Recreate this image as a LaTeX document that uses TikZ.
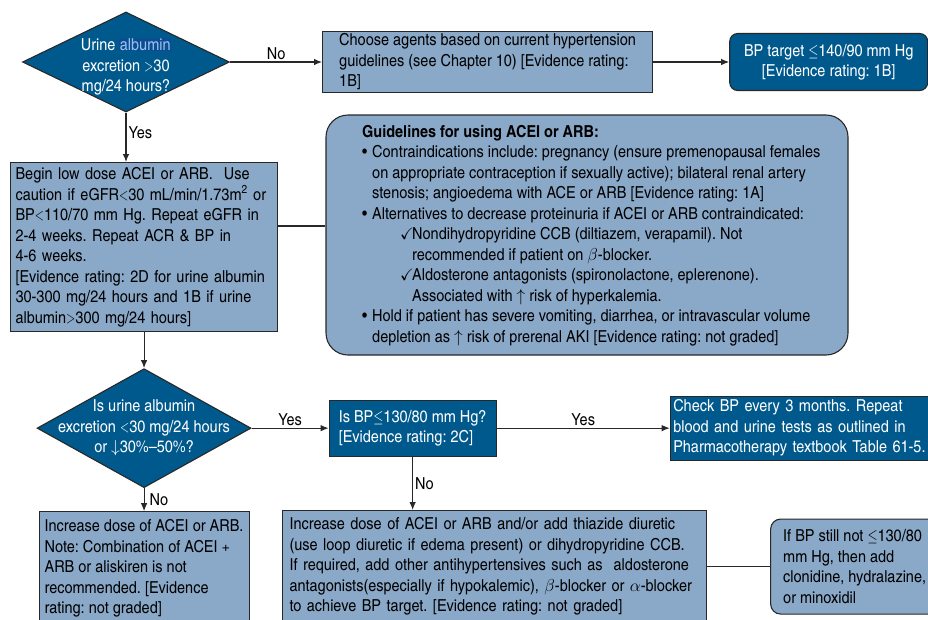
\documentclass[tikz,border=0pt]{standalone}
\usepackage{amssymb}
\usepackage{fontspec}
\setmainfont{texgyreheroscn}[Extension=.otf, UprightFont=*-regular, BoldFont=*-bold, ItalicFont=*-italic, BoldItalicFont=*-bolditalic, FakeStretch=1.07]
\usetikzlibrary{shapes.geometric, arrows.meta, positioning, fit, backgrounds}
\definecolor{flowdark}{RGB}{0,89,140}
\definecolor{flowlight}{RGB}{138,168,199}
\definecolor{flowline}{RGB}{40,40,40}
\definecolor{selback}{RGB}{14,76,146}
\definecolor{seltext}{RGB}{150,195,238}
\newcommand{\lessthan}{\scalebox{0.7}[1]{$<$}}
\newcommand{\morethan}{\scalebox{0.7}[1]{$>$}}
\newcommand{\atmost}{\scalebox{0.75}[1]{$\leq$}}
\frenchspacing

\begin{document}
\begin{tikzpicture}[
        x=1pt, y=-1pt,
        every node/.style = {font=\fontsize{16.5}{20.5}\selectfont},
        box/.style = {draw=flowline, rectangle, line width=1.1pt, align=left, inner xsep=2pt, inner ysep=2pt},
        lightbox/.style = {box, fill=flowlight},
        darkbox/.style = {box, fill=flowdark, text=white},
        roundbox/.style = {lightbox, rounded corners=10pt},
        decision/.style = {draw=flowline, diamond, line width=1.1pt, fill=flowdark, text=white, align=center, inner xsep=-25pt, inner ysep=-20pt},
        arrow/.style = {draw=flowline, -{Latex[length=8pt, width=6.5pt]}, line width=1.1pt},
        link/.style = {draw=flowline, line width=1.1pt},
        answer/.style = {font=\fontsize{16.5}{18}\selectfont, inner sep=2pt}
    ]
        \useasboundingbox (0,0) rectangle (928,619);

        % First question
        \node (albq) [decision, aspect=2.07, minimum width=207pt, minimum height=100pt] at (126,62) {\rule{0pt}{22pt}Urine \smash{\setlength{\fboxsep}{0.5pt}\colorbox{selback}{\textcolor{seltext}{albumin}}}\\excretion \morethan30\\mg/24 hours?};
        \node (agents) [lightbox, right=92pt of albq, minimum width=330pt, minimum height=61pt] {Choose agents based on current hypertension\\guidelines (see Chapter 10) [Evidence rating:\\1B]};
        \node (target) [darkbox, rounded corners=8pt, right=76pt of agents, minimum width=198pt, minimum height=57pt, align=center] {BP target \atmost140/90 mm Hg\\{[}Evidence rating: 1B]};

        % Start therapy
        \node (startrx) [lightbox, anchor=north west, inner xsep=5pt, text width=257pt, minimum height=169pt] at (10,162) {Begin low dose ACEI or ARB.\ \ Use\\caution if eGFR\lessthan30 mL/min/1.73m\textsuperscript{2} or\\BP\lessthan110/70 mm Hg. Repeat eGFR in\\2-4 weeks. Repeat ACR \& BP in\\4-6 weeks.\\{[}Evidence rating: 2D for urine albumin\\30-300 mg/24 hours and 1B if urine\\albumin\morethan300 mg/24 hours]};

        % Guidelines panel
        \node (guidetext) [anchor=north west, align=left, inner sep=0pt] at (362,125) {\textbf{Guidelines for using ACEI or ARB:}\\
            \makebox[10pt][l]{\textbullet}Contraindications include: pregnancy (ensure premenopausal females\\
            \hspace*{10pt}on appropriate contraception if sexually active); bilateral renal artery\\
            \hspace*{10pt}stenosis; angioedema with ACE or ARB [Evidence rating: 1A]\\
            \makebox[10pt][l]{\textbullet}Alternatives to decrease proteinuria if ACEI or ARB contraindicated:\\
            \hspace*{38pt}\makebox[12pt][l]{$\checkmark$}Nondihydropyridine CCB (diltiazem, verapamil). Not\\
            \hspace*{50pt}recommended if patient on $\beta$-blocker.\\
            \hspace*{38pt}\makebox[12pt][l]{$\checkmark$}Aldosterone antagonists (spironolactone, eplerenone).\\
            \hspace*{50pt}Associated with $\uparrow$ risk of hyperkalemia.\\
            \makebox[10pt][l]{\textbullet}Hold if patient has severe vomiting, diarrhea, or intravascular volume\\
            \hspace*{10pt}depletion as $\uparrow$ risk of prerenal AKI [Evidence rating: not graded]};
        \begin{scope}[on background layer]
            \node (guide) [roundbox, rounded corners=22pt, inner sep=0pt, fit={(326,115) (848,355)}] {};
        \end{scope}
        \coordinate (linky) at (300,226);

        % Second question
        \node (albchange) [decision, aspect=1.8, minimum width=214pt, minimum height=119pt, below=36pt of startrx] {Is urine albumin\\excretion \lessthan30 mg/24 hours\\or $\downarrow$30\%--50\%?};
        \node (bpgoal) [darkbox, right=77pt of albchange, minimum width=167pt, minimum height=56pt] {Is BP\atmost130/80 mm Hg?\\{[}Evidence rating: 2C]};
        \node (monitor) [darkbox, right=173pt of bpgoal, minimum height=64pt, inner xsep=3pt, text width=270pt] {Check BP every 3 months. Repeat\\blood and urine tests as outlined in\\Pharmacotherapy textbook Table 61-5.};

        % Bottom row
        \node (raisedose) [lightbox, below=23pt of albchange, minimum width=210pt, minimum height=113pt] {Increase dose of ACEI or ARB.\\Note: Combination of ACEI +\\ARB or aliskiren is not\\recommended. [Evidence\\rating: not graded]};
        \node (intensify) [lightbox, anchor=north west, minimum height=112pt, inner xsep=7pt, text width=410pt] at (282,510) {Increase dose of ACEI or ARB and/or add thiazide diuretic\\(use loop diuretic if edema present) or dihydropyridine CCB.\\If required, add other antihypertensives such as\ \ aldosterone\\antagonists(especially if hypokalemic), $\beta$-blocker or $\alpha$-blocker\\to achieve BP target. [Evidence rating: not graded]};
        \node (addagents) [roundbox, right=63pt of intensify, minimum width=168pt, minimum height=95pt] {If BP still not \atmost130/80\\mm Hg, then add\\clonidine, hydralazine,\\or minoxidil};

        % Arrows
        \draw [arrow] (albq) -- node[answer, above] {No} (agents);
        \draw [arrow] (agents.east) -- (agents.east -| target.west);
        \draw [arrow] (albq) -- node[answer, right, pos=0.4] {Yes} (startrx.north -| albq);
        \draw [link] (startrx.east |- linky) -- (guide.west |- linky);
        \draw [arrow] (startrx.south -| albchange) -- (albchange.north);
        \draw [arrow] (albchange) -- node[answer, above] {Yes} (bpgoal);
        \draw [arrow] (bpgoal) -- node[answer, above] {Yes} (monitor);
        \draw [arrow] (bpgoal.south) -- node[answer, right] {No} (bpgoal.south |- intensify.north);
        \draw [arrow] (albchange) -- node[answer, right, xshift=3pt] {No} (raisedose);
        \draw [link] (intensify) -- (addagents);

    \end{tikzpicture}
\end{document}
